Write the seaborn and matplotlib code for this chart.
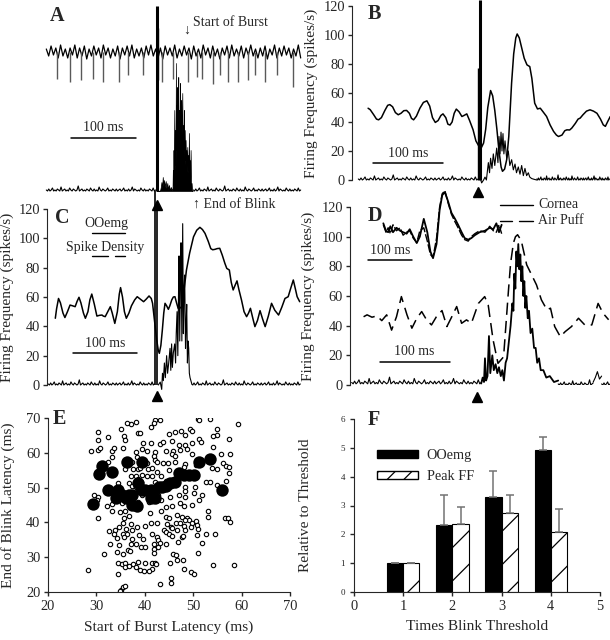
import numpy as np
import pandas as pd
import seaborn as sns
import matplotlib.pyplot as plt
from matplotlib.lines import Line2D
from matplotlib.patches import Patch

# ---------------- data (time in ms, 0 = stimulus) ----------------
# A: raw unit record (arbitrary units) and rectified OOemg
a_noise = [3, -4, 6, -3, 4, -6, 7, -4, 3, -6, 4, -3, 7, -6, 4, -4, 6, -7, 3, -4, 6, -3, 4, -6, 7, -3, 4, -6, 3, -4,
           6, -7, 4, -3, 6, -4, 7, -6, 3, -4, 4, -6, 6, -3, 7, -4, 3, -6, 4, -7, 6, -3, 4, -4, 7, -6, 3, -4, 6, -3,
           4, -7, 6, -4, 3, -6, 7, -3, 4, -6, 6, -4, 3, -7, 4, -3, 6, -6, 7, -4, 3, -4, 6, -6, 4, -3, 7, -4, 3, -6,
           4, -4, 6, -7, 3, -3, 7, -6, 4, -4, 6, -3, 4, -6, 3, -4, 7, -6]
a_spike_t = [-154, -134, -117, -98, -83, -58, -45, -22, 8, 25, 48, 62, 69, 86, 97, 109, 125, 140, 151, 166, 185, 209]
a_spike_d = [-27, -30, -28, -27, -30, -30, -23, -23, -30, -27, -30, -25, -27, -32, -23, -30, -30, -28, -23, -30, -23, -35]
a_burst_t = [0, 3, 5, 6, 7, 8, 9, 10, 11, 12, 13.5, 14.5, 16, 17, 18.5, 20, 21.5, 22.6, 24, 24.5,
             25, 25.5, 26, 26.7, 27.3, 28, 28.6, 29.2, 29.8, 30.5, 31, 31.3, 31.9, 32.4, 32.8, 33.4, 33.9, 34.4, 34.9, 35.4,
             36, 36.5, 37, 37.6, 38.2, 39, 39.6, 40.3, 41, 41.5, 42.2, 42.8, 43.4, 44.1, 44.7, 45.3, 45.9, 46.7, 47.3, 48,
             48.6, 49.2, 49.8, 50.5, 51.1, 51.8, 52.4, 53.3, 54, 55]
a_burst_v = [9, 9, 10, 13, 18, 12, 23, 14, 20, 13, 19, 12, 17, 11, 15, 10, 13, 10, 12, 30,
             15, 50, 25, 90, 30, 70, 35, 137, 50, 95, 55, 113, 60, 80, 123, 60, 90, 73, 55, 117,
             60, 85, 100, 58, 80, 107, 55, 75, 50, 90, 40, 70, 35, 60, 30, 50, 28, 53, 30, 45,
             25, 67, 25, 40, 20, 50, 15, 17, 10, 9]
emg_floor = [1, 0, 2, 0, 1, 3, 0, 1, 0, 2, 1, 0, 4, 0, 1, 2, 0, 1, 0, 3, 1, 0, 2, 1, 0, 1, 5, 0, 1, 2,
             0, 1, 0, 2, 1, 0, 3, 1, 0, 2, 0, 1, 0, 4, 1, 0, 2, 1, 0, 1, 3, 0, 1, 0, 2, 1, 0, 2, 0, 1,
             2, 0, 1, 3, 0, 1, 0, 2, 0, 1, 4, 0, 2, 1, 0, 1, 0, 3, 1, 0, 2, 0, 1, 0, 2, 1, 0, 3, 0, 1]

# B: spike density (t, spikes/s) and OOemg
b_sd = [(-157, 49.5), (-154, 48.5), (-149, 45), (-145, 42), (-142, 41.5), (-138, 43), (-133, 48), (-129, 51.5),
        (-126, 52), (-122, 50.5), (-118, 46.5), (-114, 45), (-110, 46), (-106, 47.8), (-102, 48), (-98, 46),
        (-95, 42.5), (-92, 41.5), (-88, 44), (-83, 49.5), (-78, 53.5), (-73, 54.6), (-69, 51), (-65, 43),
        (-61, 39.7), (-57, 41), (-53, 44.5), (-50, 45.6), (-46, 43), (-43, 38.5), (-40, 37.9), (-37, 40),
        (-34, 46), (-31, 48.9), (-27, 47), (-23, 43.8), (-20, 44.5), (-16, 45.6), (-12, 41), (-7, 34.6),
        (-3, 27), (1.4, 23.2), (5, 22.5), (8, 25.5), (11, 35), (14, 50), (18, 61.7), (21, 58), (24, 48),
        (27, 35), (30, 20), (33, 9), (35, 6), (38, 7.5), (41, 14), (44, 30), (48, 66.8), (51, 87), (54, 98),
        (56, 100.7), (59, 98), (62, 92), (66, 84), (70, 79.4), (74, 78.2), (77, 70), (81, 53), (85, 49),
        (89, 49.5), (93, 47), (98, 43.8), (103, 38), (108, 33.5), (112, 31), (115, 30), (120, 31), (124, 34),
        (127, 34.6), (131, 34.5), (134, 35.8), (139, 39), (143, 42), (146, 42.7), (150, 45), (155, 47.5),
        (160, 48.4), (165, 47.5), (170, 46), (175, 42), (179, 38), (182, 37), (185, 40), (189, 43.8)]
b_burst_t = [4, 5.2, 8, 10, 12, 14.8, 16.5, 18, 20, 21.9, 24, 26.7, 28.5, 30, 31.5, 32.9, 34.3, 35.7, 37, 38.6,
             41, 43.3, 45.5, 48.1, 50.5, 52.9, 55, 57.6, 60, 62.4, 64.8, 67.1, 69.5, 71.9, 74, 76.7, 80, 84]
b_burst_v = [0, -2, 0, 2, 0, 12, 5, 15, 8, 18, 10, 22, 12, 30, 18, 33, 20, 32, 18, 27,
             15, 20, 10, 14, 7, 11, 5, 9, 4, 10, 3, 8, 3, 5, 2, 1, 0.5, 0]

# C: spike density (t, spikes/s) and OOemg
c_sd = [(-159, 45.5), (-157, 52), (-154, 59), (-151, 56), (-147, 49), (-144, 46), (-140, 50), (-136, 54.5),
        (-132, 54), (-128, 53.4), (-125, 57), (-122, 59.8), (-119, 56), (-115, 49), (-112, 45.5), (-108, 50),
        (-105, 58), (-102, 62), (-98, 55), (-94, 47), (-90, 47.5), (-86, 47.7), (-84, 47), (-81, 46.6),
        (-77, 50), (-73, 53.4), (-70, 49), (-66, 42), (-62, 50), (-59, 62), (-57, 66.4), (-54, 60), (-51, 50),
        (-48, 45.5), (-44, 49), (-40, 54), (-35, 58), (-31, 60.2), (-26, 58.5), (-21, 56.8), (-17, 58.5),
        (-12.5, 60.7), (-9, 59), (-7, 55.7), (-4, 44), (-0.5, 30.7), (2, 23.5), (3.6, 21.6), (6, 27),
        (8.3, 37.5), (10.5, 49), (12.5, 55.7), (15, 54), (17.7, 51.6), (20, 54), (23, 58), (25.5, 60),
        (28, 60.2), (30.5, 56), (33, 52.3), (36, 52.5), (38.5, 53.4), (42, 64), (46, 78.4), (51, 90), (57, 101),
        (62, 105.5), (67, 107.5), (71, 106), (75, 103.4), (80, 98), (84, 93), (87, 92.2), (90.6, 92.5), (94, 93),
        (98, 93.2), (102, 88.5), (106, 83), (109, 79.5), (113, 78.4), (116, 70), (119, 64.8), (122, 68), (125, 71),
        (128, 65), (132, 58), (136, 50), (140, 46.6), (143, 49), (146, 52.3), (150, 45), (153, 39.8), (157, 44),
        (161, 50.7), (165, 45), (169, 39.8), (174, 47), (179, 55.7), (184, 51), (190, 47.7), (195, 53), (200, 59),
        (205, 60.2), (209, 66), (213, 71.6), (216, 66), (219, 60.2), (223, 56.8)]
c_burst_t = [2, 5, 7.3, 8.5, 9.9, 11.5, 13, 15, 16.5, 18, 20.3, 21.5, 22.8, 24, 25.5, 27.6, 29, 30, 31.3, 32.5,
             33.5, 34.4, 35.5, 36.5, 37.5, 38.8, 40.1, 41.2, 42.2, 43.2, 44.5, 45.4, 46.4, 47.5, 48.5, 49.5, 50.5, 51.6, 54.2]
c_burst_v = [0, 2, -3, 8, 3, 15, 5, 20, 8, 14, 25, 10, 28, 12, 22, 28, 15, 35, 50, 20,
             60, 88, 30, 70, 97, 30, 110, 35, 65, 75, 25, 40, 55, 15, 30, 25, 8, 5, 1]

# D: air puff spike density (dashed), cornea OOemg (solid)
d_puff = [(-162, 46), (-157, 47.3), (-150, 45.7), (-143, 46.6), (-136, 43.4), (-129, 47.3), (-122, 37), (-115, 46),
          (-108, 59.6), (-100, 47.3), (-93, 38.3), (-86, 45), (-79, 49.5), (-72, 43.9), (-65, 40.5), (-58, 46),
          (-50, 50.2), (-43, 39.4), (-36, 46), (-29, 52.9), (-22, 41.6), (-15, 43.9), (-8, 41.6), (2, 55),
          (11, 59.6), (16, 54), (23, 30.4), (30, 14.6), (38, 19), (45, 64), (48, 82), (52, 95.7), (55, 100),
          (58, 101.3), (61, 99), (64, 95.7), (71, 81), (78, 74.3), (85, 67.5), (92, 57.4), (100, 50.6), (105, 51.8),
          (111, 39.4), (119, 32.6), (126, 36), (135, 39.4), (145, 45), (154, 40.5), (164, 40.5), (173, 55),
          (180, 48.4), (188, 44)]
d_emg_t = [6, 8.1, 10, 11.4, 13, 15, 17.1, 19, 21.9, 24, 26.6, 29, 31.4, 34, 36.2, 38.5, 40.9, 43, 45.7, 48,
           50.5, 52, 53.3, 54.8, 56.2, 57.6, 59, 60.5, 61.9, 63.3, 64.8, 66.2, 67.6, 69, 70.5, 72.5, 74.3, 76.5, 79, 81.5,
           83.8, 86, 88.6, 91, 94.8, 99, 104, 110, 116]
d_emg_v = [1, 5, 2, 18, 3, 6, 33, 8, 20, 10, 14, 8, 12, 6, 10, 3, 15, 18, 30, 40,
           55, 50, 75, 65, 90, 80, 95, 78, 88, 70, 80, 60, 70, 52, 60, 45, 50, 35, 38, 25,
           25, 15, 18, 10, 10, 5, 6, 2, 3]
d_blip_t = [166, 169, 172, 175, 178]
d_blip_v = [2, 5, 9, 4, 6]
# D inset (own 100 ms scale)
di_t = [1, 7, 12, 17, 23, 31, 39, 46, 54, 61, 69, 77, 84, 93, 101, 108, 114, 122, 129, 135,
        141, 148, 156, 164, 171, 179, 186, 194, 201, 209, 220, 232, 243, 251, 258, 264, 270]
di_cornea = [109, 104, 103, 107, 103, 106, 104, 103, 102, 105, 100, 95.7, 100, 112, 103, 90, 85.5, 95, 118, 128,
             130, 124, 116, 112, 108, 103, 99, 98, 99, 101, 103, 104, 106, 105, 109, 103, 108]
di_puff = [108, 103, 106, 102, 108, 104, 106, 101, 103, 104, 99, 96, 104, 106, 97, 88, 86, 99, 120, 129,
           131, 123, 115, 110, 106, 101, 98, 97, 100, 102, 104, 103, 107, 104, 103, 108, 102]

# E: start of burst vs end of blink latency (ms)
e_small = [(42.2, 69.5), (43.2, 69.3), (38.1, 68.8), (37.2, 68.3), (36.3, 68.6), (35.1, 66.9), (51.0, 69.7), (51.2, 69.3),
           (53.5, 69.7), (59.3, 68.4), (41.9, 68.6), (41.2, 67.4), (30.3, 65.9), (32.3, 64.5), (30.4, 63.8), (35.6, 64.7),
           (36.0, 63.8), (38.6, 65.8), (39.1, 65.8), (46.3, 65.9), (47.4, 66.4), (49.3, 66.8), (49.8, 66.4), (55.0, 66.8),
           (54.9, 65.1), (54.0, 64.7), (57.3, 64.1), (48.4, 65.1), (45.0, 65.5), (39.6, 62.8), (41.2, 62.8), (43.2, 62.6),
           (43.7, 63.0), (45.7, 63.3), (47.0, 62.2), (48.3, 62.2), (49.8, 62.8), (51.2, 64.0), (51.7, 63.0), (28.8, 60.4),
           (30.4, 60.9), (30.7, 61.3), (33.2, 60.4), (33.6, 61.3), (35.4, 61.3), (38.1, 60.1), (39.5, 61.0), (40.4, 60.6),
           (42.2, 60.3), (44.4, 60.4), (45.8, 60.4), (47.2, 60.7), (48.7, 61.1), (49.8, 59.7), (45.7, 59.7), (46.2, 59.1),
           (54.0, 61.8), (55.8, 59.7), (57.7, 59.7), (33.2, 58.8), (38.3, 58.8), (41.9, 59.1), (42.2, 58.0), (42.6, 57.5),
           (37.4, 57.5), (40.5, 57.0), (43.7, 57.2), (44.8, 57.0), (46.3, 57.4), (48.4, 56.8), (50.6, 56.5), (53.2, 58.8),
           (56.2, 57.0), (56.7, 56.2), (57.3, 55.9), (32.4, 57.5), (35.9, 55.3), (37.5, 55.3), (38.6, 55.3), (39.1, 55.6),
           (40.6, 55.3), (41.5, 55.6), (42.6, 54.6), (45.0, 55.1), (47.4, 54.6), (48.1, 55.9), (53.9, 55.6), (55.0, 55.3),
           (57.3, 54.3), (33.3, 54.9), (37.1, 53.2), (38.1, 53.2), (39.5, 53.7), (40.5, 53.2), (41.5, 53.2), (43.4, 53.4),
           (38.6, 52.4), (39.3, 51.7), (42.1, 51.7), (44.3, 52.0), (52.7, 51.5), (53.5, 51.5), (56.8, 51.9), (34.4, 51.3),
           (36.7, 51.3), (37.4, 50.5), (38.1, 50.1), (48.4, 50.1), (50.3, 50.3), (55.0, 50.8), (29.6, 47.9), (30.4, 47.2),
           (30.1, 46.4), (33.6, 46.4), (37.8, 48.4), (38.5, 49.3), (39.5, 47.9), (41.9, 48.4), (42.8, 47.9), (43.4, 46.4),
           (45.3, 47.4), (47.0, 47.9), (48.4, 49.1), (50.1, 48.4), (51.9, 47.9), (48.4, 47.2), (45.6, 44.7), (47.2, 45.5),
           (48.1, 44.7), (49.8, 45.0), (51.2, 46.3), (32.2, 44.7), (33.2, 45.3), (35.3, 45.7), (37.1, 45.5), (38.6, 46.0),
           (40.8, 46.0), (44.3, 44.5), (33.2, 43.4), (34.8, 43.1), (36.0, 43.4), (37.9, 44.3), (30.4, 41.4), (35.8, 41.4),
           (36.8, 41.8), (41.1, 42.6), (43.4, 43.4), (44.3, 41.6), (45.1, 41.4), (46.7, 42.1), (47.6, 41.6), (48.8, 41.2),
           (53.1, 43.4), (53.0, 41.6), (56.6, 41.4), (57.1, 41.4), (57.7, 40.2), (49.2, 40.7), (48.4, 40.7), (49.8, 39.7),
           (50.5, 40.5), (50.8, 39.2), (46.5, 39.7), (40.1, 38.9), (41.2, 39.7), (42.6, 39.9), (44.6, 39.5), (45.4, 38.8),
           (47.2, 39.7), (48.1, 38.9), (34.6, 38.7), (35.4, 39.7), (37.1, 39.5), (36.1, 38.0), (37.4, 37.8), (32.6, 37.6),
           (33.8, 37.8), (38.4, 38.6), (43.9, 37.9), (45.7, 38.3), (46.7, 37.9), (48.4, 37.9), (49.5, 38.6), (50.9, 38.0),
           (33.6, 36.6), (35.4, 36.8), (36.4, 36.6), (38.8, 36.3), (41.5, 36.8), (44.3, 37.3), (45.0, 36.6), (45.7, 36.1),
           (47.6, 35.7), (50.7, 36.3), (34.3, 35.4), (35.7, 35.9), (37.4, 35.1), (39.6, 35.1), (42.6, 35.7), (52.7, 36.6),
           (47.9, 36.2), (32.9, 33.8), (34.6, 33.5), (37.2, 33.8), (38.1, 33.8), (39.3, 33.0), (40.0, 33.0), (41.8, 33.8),
           (42.8, 34.9), (43.2, 34.1), (44.3, 33.8), (46.9, 34.4), (36.5, 32.2), (35.4, 31.0), (34.3, 31.5), (36.9, 31.8),
           (31.5, 30.9), (41.8, 32.5), (42.8, 32.8), (42.0, 31.3), (45.9, 30.9), (51.0, 31.3), (51.9, 34.1), (54.6, 36.6),
           (34.5, 28.4), (35.2, 28.0), (36.0, 28.4), (37.5, 28.0), (38.6, 28.7), (40.1, 28.4), (41.4, 28.2), (42.2, 28.4),
           (42.4, 28.0), (45.3, 28.4), (46.5, 30.6), (46.7, 29.3), (47.9, 29.3), (35.9, 27.2), (36.7, 27.4), (38.1, 27.2),
           (39.1, 26.2), (39.8, 26.0), (41.5, 26.7), (40.8, 26.0), (48.1, 26.7), (49.5, 25.8), (50.2, 25.3), (34.4, 25.3),
           (28.3, 26.4), (54.1, 27.7), (58.5, 27.9), (45.4, 23.9), (45.4, 22.6), (43.2, 22.2), (35.1, 20.7), (35.5, 21.3),
           (35.9, 21.7), (34.8, 20.3)]
e_big = [(29.3, 45.2), (30.6, 53.8), (31.2, 56.2), (32.3, 49.3), (33.3, 54.4), (34.0, 46.9), (35.2, 47.9), (36.1, 46.9),
         (36.4, 57.5), (36.8, 47.9), (37.4, 47.9), (38.3, 44.7), (39.5, 57.3), (40.1, 49.3), (41.2, 49.3), (42.2, 46.9),
         (43.0, 50.3), (44.3, 50.5), (45.3, 51.3), (46.2, 51.7), (47.0, 54.1), (48.1, 53.6), (49.1, 53.6), (50.1, 53.6),
         (51.2, 57.5), (53.5, 58.2), (55.9, 49.3), (39.5, 49.3), (43.6, 50.1), (41.2, 46.9), (37.4, 45.0), (34.5, 49.3),
         (38.6, 51.2)]

# F: relative to threshold
f_times = [1, 2, 3, 4]
f_oo = [1.0, 2.33, 3.28, 4.93]
f_oo_err = [0, 1.02, 0.92, 0.45]
f_ff = [1.0, 2.35, 2.73, 2.07]
f_ff_err = [0, 0.6, 0.64, 0.81]

# ---------------- layout helpers (figure pixels) ----------------
W, H = 610, 640


def rect(x0, y0, x1, y1):
    return [x0 / W, 1 - y1 / H, (x1 - x0) / W, (y1 - y0) / H]


def ftext(x, y, s, **kw):
    fig.text(x / W, 1 - y / H, s, **kw)


def fline(x0, x1, y, **kw):
    fig.add_artist(Line2D([x0 / W, x1 / W], [1 - y / H, 1 - y / H], transform=fig.transFigure, **kw))


sns.set_style('ticks')
plt.rcParams['font.family'] = ['Liberation Serif', 'DejaVu Serif']
plt.rcParams['hatch.linewidth'] = 0.9
plt.rcParams['xtick.major.size'] = 3
plt.rcParams['ytick.major.size'] = 3

fig = plt.figure(figsize=(6.1, 6.4), dpi=100)
floor_bcd = [0.7 * v for v in emg_floor]
LBL = 11.1
TCK = 10.4
ANN = 10


def freq_axes(ax, xlim, label_x):
    ax.set_xlim(*xlim)
    ax.set_ylim(0, 120)
    ax.set_yticks(range(0, 121, 20))
    ax.set_xticks([])
    sns.despine(ax=ax, bottom=True)
    ax.tick_params(axis='y', labelsize=TCK, width=1, length=3, pad=2)
    ax.patch.set_alpha(0)
    ax._label_x = label_x


def freq_label(ax):
    ax.set_xlabel('')
    ax.set_ylabel('Firing Frequency (spikes/s)', fontsize=LBL)
    ax.yaxis.set_label_coords(ax._label_x, 0.5)


def scalebar(ax, t0, y, txty):
    ax.plot([t0, t0 + 100], [y, y], color='k', lw=1.1)
    ax.text(t0 + 50, txty, '100 ms', ha='center', va='bottom', fontsize=ANN)


# ---- A ----
axA = fig.add_axes(rect(45, 0, 302, 200))
axA.set_xlim(-172, 223)
axA.set_ylim(0, 200)
axA.axis('off')
axA.plot(np.linspace(-170, 221, len(a_noise)), 148 + np.array(a_noise), color='k', lw=0.9)
axA.vlines(a_spike_t, 148, 148 + np.array(a_spike_d), color='0.35', lw=1.0)
axA.vlines([2], 120, 172, color='k', lw=1)
axA.plot(np.linspace(-170, -2, len(emg_floor)), 9 + np.array(emg_floor), color='k', lw=0.8)
axA.plot(np.linspace(56, 221, len(emg_floor)), 9 + np.array(emg_floor), color='k', lw=0.8)
axA.fill_between(a_burst_t, 9, a_burst_v, color='k', lw=0.5)
axA.vlines([-0.5], 9, 194, color='k', lw=2.2)
scalebar(axA, -132, 62, 66)
axA.plot([0], [-5], marker='^', color='k', ms=7.5, clip_on=False)

# ---- B ----
axB = fig.add_axes(rect(352, 6, 610, 180))
freq_axes(axB, (-180, 188.6), -0.13)
axB.plot(np.linspace(-171, 0, len(floor_bcd)), floor_bcd, color='k', lw=0.8, clip_on=False)
axB.plot(np.linspace(84, 188, len(floor_bcd)), floor_bcd, color='k', lw=0.8, clip_on=False)
axB.plot(b_burst_t, b_burst_v, color='k', lw=0.8, clip_on=False)
bdf = pd.DataFrame(b_sd, columns=['t', 'v'])
sns.lineplot(data=bdf, x='t', y='v', ax=axB, color='k', lw=1.1, estimator=None, sort=False)
freq_label(axB)
axB.vlines([0.5], 0, 77, color='k', lw=1, clip_on=False)
axB.vlines([3], 0, 124, color='k', lw=2.2, clip_on=False)
scalebar(axB, -150, 11.7, 14)
axB.plot([0], [-8.3], marker='^', color='k', ms=7.5, clip_on=False)

# ---- C ----
axC = fig.add_axes(rect(47, 209, 302, 385))
freq_axes(axC, (-172, 226.6), -0.129)
axC.plot(np.linspace(-170, -4, len(floor_bcd)), floor_bcd, color='k', lw=0.8, clip_on=False)
axC.plot(np.linspace(54, 224, len(floor_bcd)), floor_bcd, color='k', lw=0.8, clip_on=False)
axC.plot(c_burst_t, c_burst_v, color='k', lw=0.8, clip_on=False)
cdf = pd.DataFrame(c_sd, columns=['t', 'v'])
sns.lineplot(data=cdf, x='t', y='v', ax=axC, color='k', lw=1.1, estimator=None, sort=False)
freq_label(axC)
axC.vlines([-3, 0.5], 0, [132, 119], color='k', lw=1.2, clip_on=False)
scalebar(axC, -131, 21.8, 24)
axC.plot([0], [-7.5], marker='^', color='k', ms=7.5, clip_on=False)

# ---- D ----
axD = fig.add_axes(rect(350, 207, 610, 385))
freq_axes(axD, (-181.4, 190), -0.135)
axD.plot(np.linspace(-179, 6, len(emg_floor)), [v * 0.9 + 0.8 for v in emg_floor], color='k', lw=0.8, clip_on=False)
axD.plot(np.linspace(116, 166, len(floor_bcd) // 3), floor_bcd[:len(floor_bcd) // 3], color='k', lw=0.8)
axD.plot(d_blip_t, d_blip_v, color='k', lw=0.8)
axD.plot(np.linspace(178, 190, 8), floor_bcd[:8], color='k', lw=0.8)
axD.plot(d_emg_t, d_emg_v, color='k', lw=1.3)
ddf = pd.DataFrame(d_puff, columns=['t', 'v'])
sns.lineplot(data=ddf, x='t', y='v', ax=axD, color='k', lw=1.1, estimator=None, sort=False,
             linestyle=(0, (8, 4)))
freq_label(axD)
scalebar(axD, -139, 15.5, 18)
axD.plot([0], [-8.1], marker='^', color='k', ms=7.5, clip_on=False)

axDi = fig.add_axes(rect(360, 207, 510, 385))
axDi.set_xlim(-52, 289)
axDi.set_ylim(0, 120)
axDi.axis('off')
axDi.plot(di_t, di_cornea, color='k', lw=1.3, clip_on=False)
axDi.plot(di_t, di_puff, color='k', lw=1.0, ls=(0, (6, 1.5)), clip_on=False)
scalebar(axDi, -34, 84, 86.5)

# ---- E ----
axE = fig.add_axes(rect(48, 418, 290, 592))
es = pd.DataFrame(e_small, columns=['burst', 'blink'])
eb = pd.DataFrame(e_big, columns=['burst', 'blink'])
sns.scatterplot(data=es, x='burst', y='blink', ax=axE, s=10, facecolor='white', edgecolor='black', linewidth=0.8)
sns.scatterplot(data=eb, x='burst', y='blink', ax=axE, s=80, color='black', edgecolor='black', linewidth=0)
axE.set_xlim(20, 70)
axE.set_ylim(20, 70)
axE.set_xticks(range(20, 71, 10))
axE.set_yticks(range(20, 71, 10))
sns.despine(ax=axE)
axE.tick_params(labelsize=TCK, width=1, length=3, pad=2.5)
axE.set_xlabel('Start of Burst Latency (ms)', fontsize=LBL, labelpad=5)
axE.set_ylabel('End of Blink Latency (ms)', fontsize=LBL)
axE.yaxis.set_label_coords(-0.138, 0.5)

# ---- F ----
axF = fig.add_axes(rect(354, 419, 600, 592))
fdf = pd.DataFrame({'times': f_times * 2,
                    'measure': ['OOemg'] * 4 + ['Peak FF'] * 4,
                    'value': f_oo + f_ff})
sns.barplot(data=fdf, x='times', y='value', hue='measure', native_scale=True, width=0.66,
            palette={'OOemg': 'black', 'Peak FF': 'white'}, edgecolor='black', linewidth=0.8,
            errorbar=None, legend=False, ax=axF)
for bar in axF.containers[1]:
    bar.set_hatch('/')
for cont, errs in zip(axF.containers, [f_oo_err, f_ff_err]):
    xs = [p.get_x() + p.get_width() / 2 for p in cont]
    hs = [p.get_height() for p in cont]
    axF.errorbar(xs, hs, yerr=[np.zeros(len(errs)), errs], fmt='none', ecolor='0.45', elinewidth=1.1,
                 capsize=3, capthick=1.1, zorder=1)
axF.set_xlim(0, 5)
axF.set_ylim(0, 6)
axF.set_xticks(range(0, 6))
axF.set_xticklabels([str(i) for i in range(0, 6)])
axF.set_yticks(range(0, 7))
sns.despine(ax=axF)
axF.tick_params(axis='x', labelsize=TCK, width=1, length=3, pad=2.5)
axF.tick_params(axis='y', labelsize=6.5, width=1, length=3)
axF.set_xlabel('Times Blink Threshold', fontsize=LBL, labelpad=5)
axF.set_ylabel('Relative to Threshold', fontsize=LBL)
axF.yaxis.set_label_coords(-0.17, 0.5)
axF.legend(handles=[Patch(facecolor='black', edgecolor='black'),
                    Patch(facecolor='white', edgecolor='black', hatch='//')],
           labels=['OOemg', 'Peak FF'], loc='upper left', bbox_to_anchor=(0.04, 0.9), frameon=False,
           fontsize=10.3, handlelength=2.9, handleheight=0.5, labelspacing=0.55, handletextpad=0.6)

# ---- annotations ----
for x, y, s in [(50, 16, 'A'), (368, 14, 'B'), (55, 218, 'C'), (368, 216, 'D'), (53, 419, 'E'), (368, 420, 'F')]:
    ftext(x, y, s, fontsize=14.5, fontweight='bold', va='center', ha='left')
ftext(187, 30, '↓', fontsize=10, ha='center', va='center')
ftext(193, 22, 'Start of Burst', fontsize=ANN, ha='left', va='center')
ftext(193, 205, '↑ End of Blink', fontsize=ANN, ha='left', va='center')
ftext(106, 223, 'OOemg', fontsize=ANN, ha='center', va='center')
fline(92, 125, 233, color='k', lw=1)
ftext(105, 247, 'Spike Density', fontsize=ANN, ha='center', va='center')
fline(92, 108, 256, color='k', lw=1)
fline(115, 125, 256, color='k', lw=1)
fline(500, 533, 205, color='k', lw=1)
ftext(538, 204, 'Cornea', fontsize=ANN, ha='left', va='center')
fline(500, 512, 221, color='k', lw=1)
fline(519, 533, 221, color='k', lw=1)
ftext(538, 221, 'Air Puff', fontsize=ANN, ha='left', va='center')

fig.savefig('out.png', dpi=100)
